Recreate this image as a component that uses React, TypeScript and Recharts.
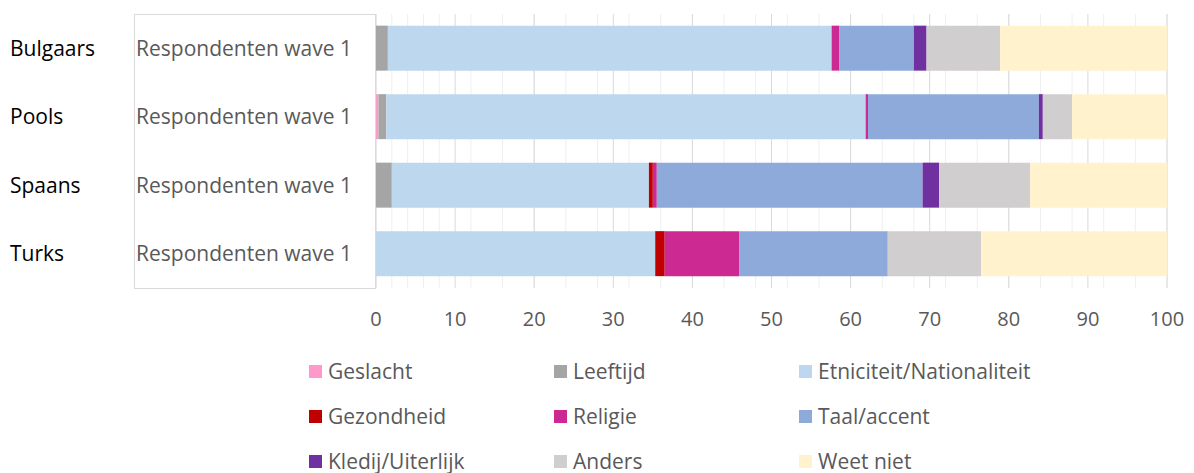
import React from 'react';
import { BarChart, Bar, XAxis, YAxis, CartesianGrid, Legend } from 'recharts';

const GROUPS = ['Bulgaars', 'Pools', 'Spaans', 'Turks'];
const WAVES = ['Respondenten wave 1', 'Respondenten wave 1', 'Respondenten wave 1', 'Respondenten wave 1'];

const GESLACHT = [0, 0.3, 0, 0];
const LEEFTIJD = [1.5, 1.0, 2.0, 0];
const ETNICITEIT = [56.1, 60.6, 32.5, 35.3];
const GEZONDHEID = [0, 0, 0.5, 1.2];
const RELIGIE = [1.0, 0.3, 0.5, 9.4];
const TAAL = [9.4, 21.6, 33.6, 18.8];
const KLEDIJ = [1.6, 0.5, 2.1, 0];
const ANDERS = [9.3, 3.7, 11.5, 11.8];
const WEET_NIET = [21.1, 12.0, 17.3, 23.5];

const X_TICKS = [0, 10, 20, 30, 40, 50, 60, 70, 80, 90, 100];
const MINOR_TICKS = Array.from({ length: 51 }, (_, i) => i * 2);

const SERIES = [
  { key: 'geslacht', name: 'Geslacht', values: GESLACHT, color: '#FF99CC' },
  { key: 'leeftijd', name: 'Leeftijd', values: LEEFTIJD, color: '#A5A5A5' },
  { key: 'etniciteit', name: 'Etniciteit/Nationaliteit', values: ETNICITEIT, color: '#BDD7EE' },
  { key: 'gezondheid', name: 'Gezondheid', values: GEZONDHEID, color: '#C00000' },
  { key: 'religie', name: 'Religie', values: RELIGIE, color: '#CC2A92' },
  { key: 'taal', name: 'Taal/accent', values: TAAL, color: '#8EAADB' },
  { key: 'kledij', name: 'Kledij/Uiterlijk', values: KLEDIJ, color: '#7030A0' },
  { key: 'anders', name: 'Anders', values: ANDERS, color: '#D0CECE' },
  { key: 'weetniet', name: 'Weet niet', values: WEET_NIET, color: '#FFF2CC' },
];

const data = GROUPS.map((group, i) => {
  const row: Record<string, string | number> = { group, wave: WAVES[i] };
  SERIES.forEach((s) => {
    row[s.key] = s.values[i];
  });
  return row;
});

const FONT = '"Open Sans", sans-serif';

function GroupTick(props: any) {
  const { y, payload } = props;
  return (
    <text x={10} y={y} dy="0.355em" textAnchor="start" fontSize={21} fill="#000000">
      {payload.value}
    </text>
  );
}

// recharts sorts legend items by name, so put them back in series order
function LegendGrid(props: any) {
  const items = [...(props.payload || [])].sort(
    (a: any, b: any) =>
      SERIES.findIndex((s) => s.name === a.value) - SERIES.findIndex((s) => s.name === b.value)
  );
  return (
    <div style={{ display: 'grid', gridTemplateColumns: '245px 245px 245px' }}>
      {items.map((item: any) => (
        <div key={item.value} style={{ display: 'flex', alignItems: 'center', height: 45 }}>
          <span style={{ width: 13, height: 13, background: item.color, marginRight: 6, display: 'inline-block' }} />
          <span style={{ fontSize: 21, color: '#595959', lineHeight: '45px' }}>{item.value}</span>
        </div>
      ))}
    </div>
  );
}

export default function App() {
  return (
    <div style={{ position: 'absolute', left: 0, top: 0, width: 1194, height: 473, fontFamily: FONT, background: '#fff' }}>
      <BarChart
        width={1194}
        height={473}
        data={data}
        layout="vertical"
        margin={{ top: 14, right: 27, bottom: 145, left: 0 }}
        barCategoryGap="17%"
      >
        <CartesianGrid horizontal={false} verticalValues={MINOR_TICKS} stroke="#EFEFEF" />
        <CartesianGrid horizontal={false} verticalValues={X_TICKS} stroke="#D9D9D9" />
        <XAxis
          type="number"
          domain={[0, 100]}
          ticks={X_TICKS}
          axisLine={false}
          tickLine={false}
          tickSize={0}
          tickMargin={24}
          height={40}
          tick={{ fontSize: 20, fill: '#595959' }}
        />
        <YAxis
          yAxisId="inner"
          type="category"
          dataKey="wave"
          width={242}
          axisLine={false}
          tickLine={false}
          tickSize={0}
          tickMargin={24}
          tick={{ fontSize: 21, fill: '#595959' }}
        />
        <YAxis
          yAxisId="outer"
          type="category"
          dataKey="group"
          width={134}
          axisLine={false}
          tickLine={false}
          tickSize={0}
          tick={<GroupTick />}
        />
        {SERIES.map((s) => (
          <Bar key={s.key} dataKey={s.key} name={s.name} stackId="a" yAxisId="outer" fill={s.color} isAnimationActive={false} />
        ))}
        <Legend
          layout="horizontal"
          verticalAlign="middle"
          content={<LegendGrid />}
          wrapperStyle={{ top: 349, left: 309, width: 760 }}
        />
      </BarChart>
      <div
        style={{
          position: 'absolute',
          left: 134,
          top: 14,
          width: 242,
          height: 275,
          border: '1px solid #D9D9D9',
          boxSizing: 'border-box',
          pointerEvents: 'none',
        }}
      />
    </div>
  );
}
